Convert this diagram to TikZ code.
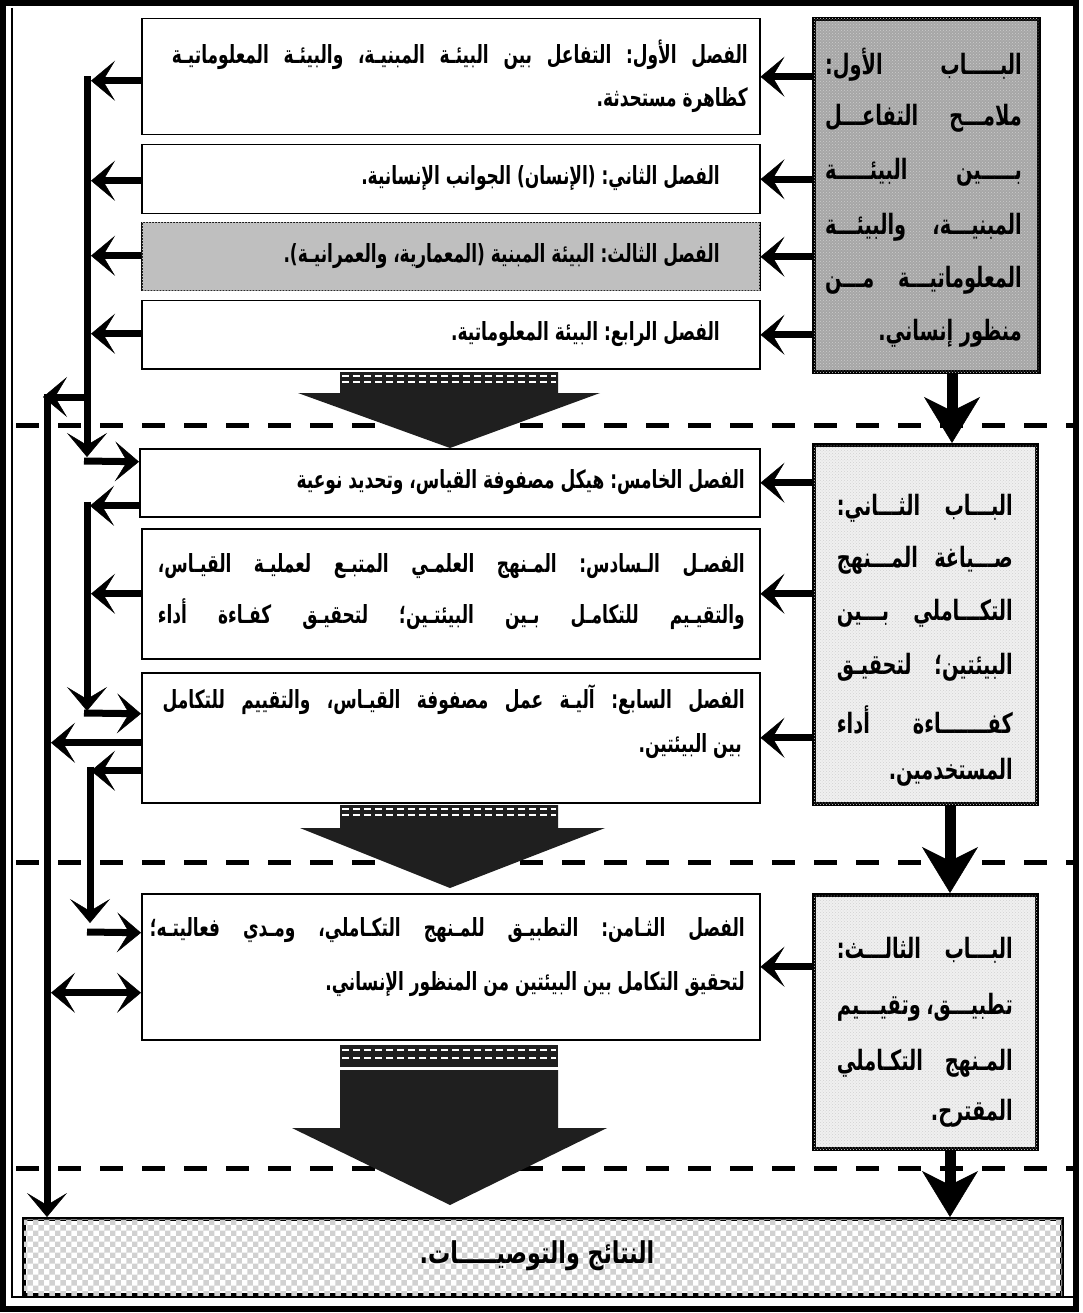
\documentclass[tikz,border=0pt]{standalone}
\usepackage{fontspec}
\usepackage{graphicx}
\newfontfamily\arabicfont[Script=Arabic]{DejaVu Sans}
\TeXXeTstate=1
\usetikzlibrary{arrows.meta,patterns}
\newcommand{\sx}[1]{\scalebox{0.68}[1]{#1}}
\newcommand{\sy}[1]{\scalebox{0.69}[1]{#1}}
\tikzset{
  conn/.style={line width=7pt,-{Stealth[length=24pt,width=40pt,inset=12pt,line width=0.5pt]}},
  conntwo/.style={line width=7pt,{Stealth[length=24pt,width=40pt,inset=12pt,line width=0.5pt]}-{Stealth[length=24pt,width=40pt,inset=12pt,line width=0.5pt]}},
  bigdown/.style={line width=11pt,-{Stealth[length=46pt,width=56pt,inset=14pt,line width=0.5pt]}},
  chap/.style={draw,line width=1.5pt,fill=white,inner sep=0pt,anchor=north west},
  bab/.style={draw,line width=4pt,inner sep=0pt,anchor=north west},
  ftxt/.style={inner sep=0pt,font=\frenchspacing\arabicfont\bfseries\fontsize{25}{28}\selectfont},
  btxt/.style={inner sep=0pt,font=\frenchspacing\arabicfont\bfseries\fontsize{28}{31}\selectfont},
  rtxt/.style={inner sep=0pt,font=\frenchspacing\arabicfont\bfseries\fontsize{30}{33}\selectfont},
  sep/.style={line width=5pt,dash pattern=on 23pt off 19pt},
  fatfill/.style={fill=black!88},
  stripe/.style={white,line width=1.5pt,dash pattern=on 7pt off 4pt},
}
\begin{document}
\begin{tikzpicture}[x=1pt,y=-1pt]
\useasboundingbox (0,0) rectangle (1082,1313);
\fill[white] (0,0) rectangle (1082,1313);
% frame
\draw[line width=6pt] (3,3) rectangle (1076,1309);
\draw[line width=1.5pt] (12,8) -- (12,1297) -- (1073,1297);
% separators
\draw[sep] (16,425) -- (1073,425);
\draw[sep] (16,862) -- (1073,862);
\draw[sep] (16,1168) -- (1073,1168);
% chapter boxes
\node[chap,minimum width=618pt,minimum height=116pt] (f1) at (141,18) {};
\node[chap,minimum width=618pt,minimum height=69pt] (f2) at (141,144) {};
\node[chap,minimum width=618pt,minimum height=68pt,fill=black!25,postaction={pattern=crosshatch,pattern color=white!75!black}] (f3) at (141,222) {};
\node[chap,minimum width=618pt,minimum height=68pt] (f4) at (141,300) {};
\node[chap,minimum width=620pt,minimum height=68pt] (f5) at (139,448) {};
\node[chap,minimum width=618pt,minimum height=130pt] (f6) at (141,528) {};
\node[chap,minimum width=618pt,minimum height=130pt] (f7) at (141,672) {};
\node[chap,minimum width=618pt,minimum height=146pt] (f8) at (141,893) {};
% part boxes
\node[bab,minimum width=225pt,minimum height=353pt,fill=black!35,postaction={pattern=crosshatch dots,pattern color=black!20}] (b1) at (812,17) {};
\node[bab,minimum width=223pt,minimum height=359pt,fill=black!6,postaction={pattern=crosshatch dots,pattern color=black!18}] (b2) at (812,443) {};
\node[bab,minimum width=223pt,minimum height=254pt,fill=black!6,postaction={pattern=crosshatch dots,pattern color=black!18}] (b3) at (812,893) {};
\node[bab,minimum width=1038pt,minimum height=76pt,fill=white,postaction={pattern=checkerboard,pattern color=black!18}] (res) at (22,1217) {};
% texts
\node[ftxt,anchor=east] (t1a) at (748,55) {\sx{\makebox[847pt][s]{\beginR الفصل الأول: التفاعل بين البيئـة المبنيـة، والبيئـة المعلوماتيـة\endR}}};
\node[ftxt,anchor=east] (t1b) at (748,100) {\sx{\beginR كظاهرة مستحدثة.\endR}};
\node[ftxt,anchor=east] (t2) at (720,178) {\sx{\beginR الفصل الثاني: (الإنسان) الجوانب الإنسانية.\endR}};
\node[ftxt,anchor=east] (t3) at (720,256) {\sx{\beginR الفصل الثالث: البيئة المبنية (المعمارية، والعمرانيـة).\endR}};
\node[ftxt,anchor=east] (t4) at (720,334) {\sx{\beginR الفصل الرابع: البيئة المعلوماتية.\endR}};
\node[ftxt,anchor=east] (t5) at (745,482) {\sx{\beginR الفصل الخامس: هيكل مصفوفة القياس، وتحديد نوعية\endR}};
\node[ftxt,anchor=east] (t6a) at (745,566) {\sx{\makebox[863pt][s]{\beginR الفصـل الـسادس: المـنهج العلمـي المتبـع لعمليـة القيـاس،\endR}}};
\node[ftxt,anchor=east] (t6b) at (745,614) {\sx{\makebox[863pt][s]{\beginR والتقيـيم للتكامـل بـين البيئتـين؛ لتحقيـق كفـاءة أداء\endR}}};
\node[ftxt,anchor=east] (t7a) at (745,700) {\sx{\makebox[856pt][s]{\beginR الفصل السابع: آليـة عمل مصفوفة القيـاس، والتقييم للتكامل\endR}}};
\node[ftxt,anchor=east] (t7b) at (742,746) {\sx{\beginR بين البيئتين.\endR}};
\node[ftxt,anchor=east] (t8a) at (745,930) {\sx{\makebox[875pt][s]{\beginR الفصل الثـامن: التطبيـق للمـنهج التكـاملي، ومـدي فعاليتـه؛\endR}}};
\node[ftxt,anchor=east] (t8b) at (745,984) {\sx{\beginR لتحقيق التكامل بين البيئتين من المنظور الإنساني.\endR}};
\node[rtxt] (tr) at (537,1256) {\scalebox{0.74}[1]{\beginR النتائج والتوصيـــــات.\endR}};
% part texts
\node[btxt,anchor=east] (p1a) at (1022,65) {\sy{\makebox[285pt][s]{\beginR البـــــاب الأول:\endR}}};
\node[btxt,anchor=east] (p1b) at (1022,118) {\sy{\makebox[285pt][s]{\beginR ملامـــح التفاعـــل\endR}}};
\node[btxt,anchor=east] (p1c) at (1022,172) {\sy{\makebox[285pt][s]{\beginR بـــــين البيئـــــة\endR}}};
\node[btxt,anchor=east] (p1d) at (1022,227) {\sy{\makebox[285pt][s]{\beginR المبنيـــة، والبيئـــة\endR}}};
\node[btxt,anchor=east] (p1e) at (1022,280) {\sy{\makebox[285pt][s]{\beginR المعلوماتيـــة مـــن\endR}}};
\node[btxt,anchor=east] (p1f) at (1022,333) {\sy{\beginR منظور إنساني.\endR}};
\node[btxt,anchor=east] (p2a) at (1013,508) {\sy{\makebox[255pt][s]{\beginR البـــاب الثـــاني:\endR}}};
\node[btxt,anchor=east] (p2b) at (1013,560) {\sy{\makebox[255pt][s]{\beginR صـــياغة المـــنهج\endR}}};
\node[btxt,anchor=east] (p2c) at (1013,613) {\sy{\makebox[255pt][s]{\beginR التكـــاملي بـــين\endR}}};
\node[btxt,anchor=east] (p2d) at (1013,667) {\sy{\makebox[255pt][s]{\beginR البيئتين؛ لتحقيـق\endR}}};
\node[btxt,anchor=east] (p2e) at (1013,720) {\sy{\makebox[255pt][s]{\beginR كفـــــــاءة أداء\endR}}};
\node[btxt,anchor=east] (p2f) at (1013,772) {\sy{\beginR المستخدمين.\endR}};
\node[btxt,anchor=east] (p3a) at (1013,950) {\sy{\makebox[255pt][s]{\beginR البـــاب الثالـــث:\endR}}};
\node[btxt,anchor=east] (p3b) at (1013,1007) {\sy{\makebox[255pt][s]{\beginR تطبيـــق، وتقيـــيم\endR}}};
\node[btxt,anchor=east] (p3c) at (1013,1063) {\sy{\makebox[255pt][s]{\beginR المـنهج التكـاملي\endR}}};
\node[btxt,anchor=east] (p3d) at (1013,1113) {\sy{\beginR المقترح.\endR}};
% big down arrows
\fill[fatfill] (340,372) -- (558,372) -- (558,393) -- (600,393) -- (450,448) -- (298,393) -- (340,393) -- cycle;
\draw[stripe] (342,376) -- (556,376);
\draw[stripe] (342,382) -- (556,382);
\fill[fatfill] (340,805) -- (558,805) -- (558,828) -- (605,828) -- (450,888) -- (300,828) -- (340,828) -- cycle;
\draw[stripe] (342,809) -- (556,809);
\draw[stripe] (342,815) -- (556,815);
\fill[fatfill] (340,1045) rectangle (558,1067);
\draw[stripe] (342,1050) -- (556,1050);
\draw[stripe] (342,1058) -- (556,1058);
\fill[fatfill] (340,1070) -- (558,1070) -- (558,1128) -- (607,1128) -- (450,1205) -- (292,1128) -- (340,1128) -- cycle;
% part arrows
\coordinate (ax1) at (952,0);
\coordinate (ax2) at (950,0);
\draw[bigdown] (b1.south -| ax1) -- (b2.north -| ax1);
\draw[bigdown] (b2.south -| ax2) -- (b3.north -| ax2);
\draw[bigdown] (b3.south -| ax2) -- (res.north -| ax2);
% part to chapter arrows
\draw[conn] (b1.west |- f1.east) -- (f1.east);
\draw[conn] (b1.west |- f2.east) -- (f2.east);
\draw[conn] (b1.west |- f3.east) -- (f3.east);
\draw[conn] (b1.west |- f4.east) -- (f4.east);
\draw[conn] (b2.west |- f5.east) -- (f5.east);
\draw[conn] (b2.west |- f6.east) -- (f6.east);
\draw[conn] (b2.west |- f7.east) -- (f7.east);
\draw[conn] (b3.west |- f8.east) -- (f8.east);
% left connectors, section 1
\draw[conn] ([yshift=-4pt]f1.west) -- ++(-50,0);
\draw[conn] ([yshift=-1.5pt]f2.west) -- ++(-50,0);
\draw[conn] ([yshift=1pt]f3.west) -- ++(-50,0);
\draw[conn] ([yshift=1pt]f4.west) -- ++(-50,0);
\coordinate (busAtop) at (87,76.5);
\coordinate (busAbot) at (87,457);
\draw[conn] (busAtop) -- (busAbot);
\coordinate (busAr) at (84,461);
\draw[conn] (busAr) -- ([yshift=21pt]f5.west);
\coordinate (brA) at (90,397);
\coordinate (brAt) at (43,397);
\draw[conn] (brA) -- (brAt);
\coordinate (longtop) at (47,393.5);
\draw[conn] (longtop) -- (longtop |- res.north);
% section 2
\draw[conn] ([yshift=-23pt]f5.west) -- ++(-49,0);
\draw[conn] (f6.west) -- ++(-50,0);
\coordinate (busBtop) at (87,501.5);
\coordinate (busBbot) at (87,711);
\draw[conn] (busBtop) -- (busBbot);
\coordinate (busBr) at (84,713);
\draw[conn] (busBr) -- ([yshift=24pt]f7.west);
\draw[conn] ([yshift=-5pt]f7.west) -- ++(-90,0);
\draw[conn] ([yshift=-33pt]f7.west) -- ++(-50,0);
\coordinate (busCtop) at (90,766.5);
\coordinate (busCbot) at (90,923);
\draw[conn] (busCtop) -- (busCbot);
\coordinate (busCr) at (87,932);
\draw[conn] (busCr) -- ([yshift=34pt]f8.west);
\draw[conntwo] ([yshift=-26pt]f8.west) -- ++(-90,0);
\end{tikzpicture}
\end{document}
